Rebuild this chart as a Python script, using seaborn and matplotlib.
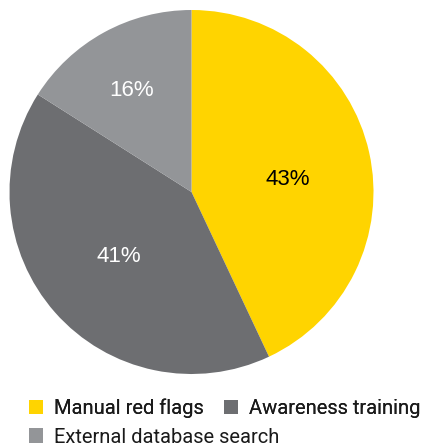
import matplotlib
matplotlib.use("Agg")
import matplotlib.pyplot as plt
import seaborn as sns

sns.set_theme(style="white")
plt.rcParams["font.family"] = ["Liberation Sans", "DejaVu Sans"]

categories = ["Manual red flags", "Awareness training", "External database search"]
shares = [43, 41, 16]
colors = ["#FFD400", "#6D6E71", "#939598"]
label_colors = ["black", "white", "white"]
# label anchor points inside each slice (axes data units, radius = 1)
label_xy = [(0.53, 0.066), (-0.398, -0.357), (-0.332, 0.555)]

fig = plt.figure(figsize=(4.30, 4.48), dpi=100)
ax = fig.add_axes([9.5 / 430, (448 - 374) / 448, 364 / 430, 364 / 448])

wedges, texts, autotexts = ax.pie(
    shares,
    colors=colors,
    startangle=90,
    counterclock=False,
    autopct=lambda p: f"{p:.0f}%",
    wedgeprops=dict(linewidth=0),
    textprops=dict(fontsize=16),
)
for t, c, xy in zip(autotexts, label_colors, label_xy):
    t.set_color(c)
    t.set_position(xy)
ax.set_xlim(-1, 1)
ax.set_ylim(-1, 1)
ax.set_aspect("equal")
ax.axis("off")

legend_font = dict(family=["Roboto", "DejaVu Sans"], size=14.5)
leg_kw = dict(
    frameon=False,
    handlelength=0.7,
    handleheight=0.7,
    handletextpad=0.55,
    borderpad=0,
    borderaxespad=0,
    prop=legend_font,
    labelcolor="#1a1a1a",
)
top = fig.legend(
    wedges[:2], categories[:2], loc="center left",
    bbox_to_anchor=(29 / 430, 1 - 408 / 448), ncol=2, columnspacing=1.0, **leg_kw
)
bottom = fig.legend(
    wedges[2:], categories[2:], loc="center left",
    bbox_to_anchor=(29 / 430, 1 - 437 / 448), **leg_kw
)
fig.add_artist(top)

fig.savefig("out.png", dpi=100)
